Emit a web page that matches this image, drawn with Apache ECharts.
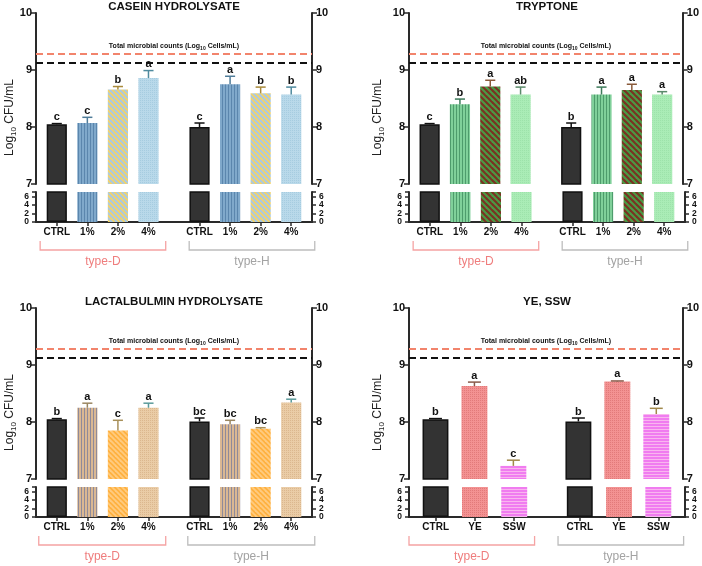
<!DOCTYPE html>
<html>
<head>
<meta charset="utf-8">
<script src="https://cdn.jsdelivr.net/npm/echarts@6/dist/echarts.min.js"></script>
<style>
  html, body { margin: 0; padding: 0; background: #fff; }
  #chart { width: 702px; height: 566px; }
</style>
</head>
<body>
<div id="chart"></div>
<script>
// ---- data ----
const groups = ['type-D', 'type-H'];
const catsPct = ['CTRL', '1%', '2%', '4%', 'CTRL', '1%', '2%', '4%'];
const catsYe = ['CTRL', 'YE', 'SSW', 'CTRL', 'YE', 'SSW'];
const lowTicks = [0, 2, 4, 6];

const totalCounts = 9.28;   // red dashed line, total microbial counts
const blackRef = 9.13;      // black dashed line

const caseinVals = [8.05, 8.07, 8.66, 8.86, 8.00, 8.75, 8.59, 8.57];
const caseinSd = [0.01, 0.10, 0.05, 0.13, 0.07, 0.14, 0.11, 0.13];
const caseinSig = ['c', 'c', 'b', 'a', 'c', 'a', 'b', 'b'];

const tryptoneVals = [8.05, 8.40, 8.71, 8.57, 8.00, 8.57, 8.65, 8.57];
const tryptoneSd = [0.01, 0.09, 0.11, 0.13, 0.07, 0.13, 0.10, 0.05];
const tryptoneSig = ['c', 'b', 'a', 'ab', 'b', 'a', 'a', 'a'];

const lactVals = [8.05, 8.25, 7.85, 8.25, 8.01, 7.96, 7.88, 8.34];
const lactSd = [0.01, 0.08, 0.18, 0.08, 0.06, 0.07, 0.02, 0.06];
const lactSig = ['b', 'a', 'c', 'a', 'bc', 'bc', 'bc', 'a'];

const yeVals = [8.05, 8.63, 7.23, 8.01, 8.71, 8.14];
const yeSd = [0.01, 0.07, 0.10, 0.06, 0.01, 0.10];
const yeSig = ['b', 'a', 'c', 'b', 'a', 'b'];

// ---- look ----
const FONT = 'Arial, "Liberation Sans", sans-serif';
const AXIS = '#2a2a2a';
const GRID_W = 276, UP_H = 171, GAP = 8, LOW_H = 30;
const GROUP_GAP = 0.67, EDGE = 0.68;

function pattern(size, draw) {
  const c = document.createElement('canvas');
  c.width = c.height = size;
  draw(c.getContext('2d'), size);
  return { image: c, repeat: 'repeat' };
}
const vStripes = (bg, fg, p) => pattern(p, (ctx, s) => {
  ctx.fillStyle = bg; ctx.fillRect(0, 0, s, s);
  ctx.fillStyle = fg; ctx.fillRect(0, 0, 1, s);
});
const hStripes = (bg, fg, p) => pattern(p, (ctx, s) => {
  ctx.fillStyle = bg; ctx.fillRect(0, 0, s, s);
  ctx.fillStyle = fg; ctx.fillRect(0, 0, s, 1);
});
const diag = (c1, c2, p) => pattern(p, (ctx, s) => {
  ctx.fillStyle = c1; ctx.fillRect(0, 0, s, s);
  ctx.strokeStyle = c2; ctx.lineWidth = s / (2 * Math.SQRT2);
  for (let k = -1; k <= 1; k++) {
    ctx.beginPath(); ctx.moveTo(-s, -s + k * s); ctx.lineTo(2 * s, 2 * s + k * s); ctx.stroke();
  }
});
const dots = (bg, fg) => pattern(2, (ctx, s) => {
  ctx.fillStyle = bg; ctx.fillRect(0, 0, s, s);
  ctx.fillStyle = fg; ctx.fillRect(0, 0, 1, 1);
});

const CTRL = { fill: '#333333', err: '#111111' };

const panels = [
  {
    title: 'CASEIN HYDROLYSATE', left: 36, top: 13, cats: catsPct,
    vals: caseinVals, sd: caseinSd, sig: caseinSig,
    fills: [vStripes('#80a9cb', '#5b86ad', 3), diag('#f2d36b', '#a9c9e3', 5), dots('#b9d9ea', '#a6cce0')],
    errs: ['#4f7c99', '#a88a3a', '#4f8a9e'],
    brackets: [[0.015, 0.47], [0.555, 1.01]]
  },
  {
    title: 'TRYPTONE', left: 409, top: 13, cats: catsPct,
    vals: tryptoneVals, sd: tryptoneSd, sig: tryptoneSig,
    fills: [vStripes('#80d09a', '#4e9c6c', 3), diag('#4a9a45', '#7a3222', 6), dots('#aaecb6', '#9de2aa')],
    errs: ['#3d7a5a', '#8a5a3a', '#5a8a6a'],
    brackets: [[0.015, 0.47], [0.555, 1.01]]
  },
  {
    title: 'LACTALBULMIN HYDROLYSATE', left: 36, top: 308, cats: catsPct,
    vals: lactVals, sd: lactSd, sig: lactSig,
    fills: [vStripes('#dab893', '#8f8a99', 3), diag('#ffb13f', '#ffcb80', 5), dots('#eacca6', '#dbb78e')],
    errs: ['#9a8660', '#a8905a', '#5a9a9a'],
    brackets: [[0.01, 0.47], [0.55, 1.01]]
  },
  {
    title: 'YE, SSW', left: 409, top: 308, cats: catsYe,
    vals: yeVals, sd: yeSd, sig: yeSig,
    fills: [dots('#f39292', '#e27a7a'), hStripes('#f07cf0', '#f9b6ef', 3)],
    errs: ['#8a5a4a', '#a0884a'],
    brackets: [[0.0, 0.455], [0.54, 0.995]]
  }
];

const grid = [], xAxis = [], yAxis = [], series = [], graphic = [];

const yLabel = { fontSize: 11, fontWeight: 'bold', color: '#111', fontFamily: FONT, margin: 4,
  showMinLabel: true, showMaxLabel: true, hideOverlap: false };
const axLine = { show: true, onZero: false, lineStyle: { color: AXIS, width: 2 } };
const axTick = { show: true, length: 5, lineStyle: { color: AXIS, width: 1.5 } };

panels.forEach((p, pi) => {
  const n = p.cats.length / 2;
  const xs = p.cats.map((_, i) => Math.floor(i / n) * (n + GROUP_GAP) + (i % n));
  const xmin = -EDGE, xmax = 2 * n - 1 + GROUP_GAP + EDGE;
  const barW = 0.66 * GRID_W / (xmax - xmin);
  const capW = barW * 0.5;
  const styleFor = i => {
    const k = i % n;
    if (k === 0) return { color: CTRL.fill, borderColor: '#111', borderWidth: 1.5 };
    return { color: p.fills[k - 1] };
  };
  const errFor = i => (i % n === 0 ? CTRL.err : p.errs[i % n - 1]);

  const gU = grid.length;
  grid.push({ left: p.left, top: p.top, width: GRID_W, height: UP_H });
  grid.push({ left: p.left, top: p.top + UP_H + GAP, width: GRID_W, height: LOW_H });

  xAxis.push({ gridIndex: gU, type: 'value', min: xmin, max: xmax, show: false });
  xAxis.push({
    gridIndex: gU + 1, type: 'value', min: xmin, max: xmax, position: 'bottom',
    axisLine: axLine, splitLine: { show: false },
    axisTick: { show: true, length: 4, customValues: xs, lineStyle: { color: AXIS, width: 1.5 } },
    axisLabel: {
      customValues: xs, margin: 5, fontSize: 10, fontWeight: 'bold', color: '#111', fontFamily: FONT,
      interval: 0, showMinLabel: true, showMaxLabel: true, hideOverlap: false,
      formatter: v => {
        const i = xs.findIndex(x => Math.abs(x - v) < 0.01);
        return i >= 0 ? p.cats[i] : '';
      }
    }
  });

  const yU = yAxis.length;
  ['left', 'right'].forEach(pos => yAxis.push({
    gridIndex: gU, type: 'value', position: pos, min: 7, max: 10, interval: 1,
    axisLine: axLine, axisTick: axTick, axisLabel: yLabel, splitLine: { show: false }
  }));
  ['left', 'right'].forEach(pos => yAxis.push({
    gridIndex: gU + 1, type: 'value', position: pos, min: 0, max: 7,
    axisLine: axLine, axisTick: Object.assign({}, axTick, { length: 4, customValues: lowTicks.concat([7]) }),
    axisLabel: { show: false }, splitLine: { show: false }
  }));

  const barData = xs.map((x, i) => ({ value: [x, p.vals[i]], itemStyle: styleFor(i) }));

  series.push({
    type: 'bar', xAxisIndex: gU, yAxisIndex: yU, barWidth: barW, data: barData, z: 2,
    markLine: {
      silent: true, symbol: 'none', animation: false,
      data: [
        {
          yAxis: totalCounts,
          lineStyle: { color: '#f2846c', type: [7, 4], width: 2 },
          label: {
            show: true, position: 'insideMiddleTop', distance: 3,
            formatter: '{a|Total microbial counts (Log}{s|10}{a| Cells/mL)}',
            rich: {
              a: { fontSize: 7, fontWeight: 'bold', color: '#111', fontFamily: FONT, lineHeight: 9 },
              s: { fontSize: 5, fontWeight: 'bold', color: '#111', fontFamily: FONT, lineHeight: 9, verticalAlign: 'bottom' }
            }
          }
        },
        {
          yAxis: blackRef,
          lineStyle: { color: '#111', type: [7, 4], width: 2 },
          label: { show: false }
        }
      ]
    }
  });
  series.push({
    type: 'bar', xAxisIndex: gU + 1, yAxisIndex: yU + 2, barWidth: barW, data: barData, z: 2
  });

  // tick labels of the short lower axis (left and right), placed through the axis scale
  series.push({
    type: 'custom', xAxisIndex: gU + 1, yAxisIndex: yU + 2, clip: false, z: 5, silent: true,
    data: lowTicks.map(v => [xmin, v]),
    renderItem: (params, api) => {
      const cs = params.coordSys;
      const y = api.coord([xmin, api.value(1)])[1];
      const st = { text: String(api.value(1)), verticalAlign: 'middle', font: 'bold 8.5px ' + FONT, fill: '#111' };
      return {
        type: 'group',
        children: [
          { type: 'text', x: cs.x - 7, y: y, style: Object.assign({ align: 'right' }, st) },
          { type: 'text', x: cs.x + cs.width + 7, y: y, style: Object.assign({ align: 'left' }, st) }
        ]
      };
    }
  });

  // error bars and significance letters
  series.push({
    type: 'custom', xAxisIndex: gU, yAxisIndex: yU, clip: false, z: 5,
    data: xs.map((x, i) => [x, p.vals[i], p.sd[i]]),
    renderItem: (params, api) => {
      const i = params.dataIndex;
      const x = api.value(0), v = api.value(1), e = api.value(2);
      const base = api.coord([x, v]);
      const top = api.coord([x, v + e]);
      const col = errFor(i);
      return {
        type: 'group',
        children: [
          { type: 'line', shape: { x1: base[0], y1: base[1], x2: top[0], y2: top[1] }, style: { stroke: col, lineWidth: 1.5 } },
          { type: 'line', shape: { x1: top[0] - capW / 2, y1: top[1], x2: top[0] + capW / 2, y2: top[1] }, style: { stroke: col, lineWidth: 1.5 } },
          {
            type: 'text', x: top[0], y: top[1] - 1,
            style: { text: p.sig[i], align: 'center', verticalAlign: 'bottom', font: 'bold 11px ' + FONT, fill: '#111' }
          }
        ]
      };
    }
  });

  // group brackets under the axis
  series.push({
    type: 'custom', xAxisIndex: gU + 1, yAxisIndex: yU + 2, clip: false, z: 5,
    data: groups.map((g, gi) => [gi, 0]),
    renderItem: (params) => {
      const gi = params.dataIndex;
      const cs = params.coordSys;
      const [f0, f1] = p.brackets[gi];
      const x0 = cs.x + f0 * cs.width, x1 = cs.x + f1 * cs.width;
      const yb = cs.y + cs.height;
      const lineCol = gi === 0 ? '#f5a3a3' : '#bdbdbd';
      const txtCol = gi === 0 ? '#ef7d7d' : '#a3a3a3';
      return {
        type: 'group',
        children: [
          { type: 'polyline', shape: { points: [[x0, yb + 19], [x0, yb + 28], [x1, yb + 28], [x1, yb + 19]] },
            style: { stroke: lineCol, lineWidth: 1.3, fill: null } },
          { type: 'text', x: (x0 + x1) / 2, y: yb + 40,
            style: { text: groups[gi], align: 'center', verticalAlign: 'middle', font: '12px ' + FONT, fill: txtCol } }
        ]
      };
    }
  });

  // panel title and y axis name
  graphic.push({
    type: 'text', x: p.left + GRID_W / 2, y: p.top - 6,
    style: { text: p.title, align: 'center', verticalAlign: 'middle', font: 'bold 11.5px ' + FONT, fill: '#111' }
  });
  graphic.push({
    type: 'text', x: p.left - (pi % 2 === 0 ? 26 : 31), y: p.top + (UP_H + GAP + LOW_H) / 2,
    rotation: Math.PI / 2,
    style: {
      text: '{n|Log}{s|10}{n| CFU/mL}', align: 'center', verticalAlign: 'middle',
      rich: {
        n: { fontSize: 12, fontFamily: FONT, fill: '#222', lineHeight: 15, verticalAlign: 'middle' },
        s: { fontSize: 8, fontFamily: FONT, fill: '#222', lineHeight: 15, verticalAlign: 'bottom' }
      }
    }
  });
});

const chart = echarts.init(document.getElementById('chart'), null, { renderer: 'canvas' });
chart.setOption({
  animation: false,
  backgroundColor: '#fff',
  grid, xAxis, yAxis, series, graphic
});
window.addEventListener('resize', () => chart.resize());
</script>
</body>
</html>
